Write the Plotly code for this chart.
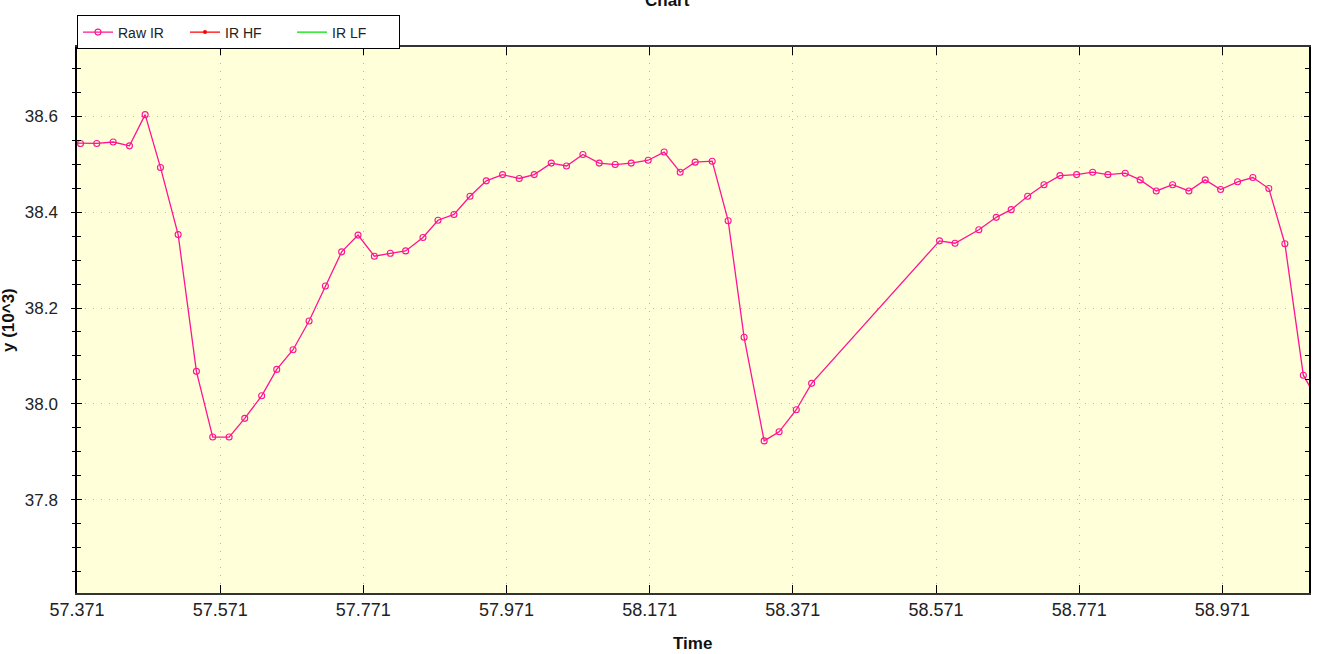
import plotly.graph_objects as go

# ---- data ----
time_s = [57.3531, 57.3759, 57.3986, 57.4215, 57.4443, 57.4662, 57.4876, 57.5123, 57.5378, 57.5606,
          57.5835, 57.6053, 57.6290, 57.6500, 57.6728, 57.6952, 57.7180, 57.7407, 57.7636, 57.7864,
          57.8087, 57.8301, 57.8543, 57.8753, 57.8976, 57.9200, 57.9427, 57.9655, 57.9888, 58.0097,
          58.0335, 58.0548, 58.0777, 58.1005, 58.1228, 58.1452, 58.1689, 58.1912, 58.2136, 58.2345,
          58.2583, 58.2806, 58.3029, 58.3309, 58.3518, 58.3758, 58.3972, 58.5759, 58.5975, 58.6308,
          58.6551, 58.6760, 58.6990, 58.7218, 58.7441, 58.7674, 58.7898, 58.8111, 58.8353, 58.8562,
          58.8786, 58.9015, 58.9242, 58.9470, 58.9685, 58.9922, 59.0136, 59.0359, 59.0583, 59.0841,
          59.1071]
raw_ir = [38.544, 38.543, 38.543, 38.546, 38.538, 38.603, 38.493, 38.353, 38.068, 37.931,
          37.931, 37.970, 38.017, 38.072, 38.113, 38.173, 38.246, 38.317, 38.352, 38.308,
          38.314, 38.319, 38.347, 38.383, 38.395, 38.433, 38.465, 38.478, 38.470, 38.478,
          38.502, 38.496, 38.520, 38.502, 38.499, 38.502, 38.508, 38.525, 38.483, 38.504,
          38.506, 38.382, 38.139, 37.923, 37.942, 37.988, 38.043, 38.340, 38.335, 38.363,
          38.389, 38.405, 38.433, 38.457, 38.476, 38.478, 38.483, 38.478, 38.481, 38.467,
          38.444, 38.457, 38.444, 38.467, 38.447, 38.463, 38.472, 38.449, 38.334, 38.060,
          38.000]
ir_hf = [None]
ir_lf = [None]

x_ticks = [57.371, 57.571, 57.771, 57.971, 58.171, 58.371, 58.571, 58.771, 58.971]
x_range = [57.371, 59.092]
y_range = [37.606, 38.744]

FONT = "Liberation Sans, Arial, sans-serif"
PINK = "#FF1493"

fig = go.Figure()
fig.add_trace(go.Scatter(
    x=time_s, y=raw_ir, name="Raw IR", mode="lines+markers",
    line=dict(color=PINK, width=1.3),
    marker=dict(symbol="circle-open", size=6, color=PINK, line=dict(width=1.1, color=PINK)),
))
fig.add_trace(go.Scatter(
    x=ir_hf, y=ir_hf, name="IR HF", mode="lines+markers", yaxis="y2",
    line=dict(color="#FF0000", width=1.3),
    marker=dict(symbol="circle", size=4, color="#FF0000"),
))
fig.add_trace(go.Scatter(
    x=ir_lf, y=ir_lf, name="IR LF", mode="lines", yaxis="y2",
    line=dict(color="#00E000", width=1.3),
))

fig.update_layout(
    width=1332, height=654,
    margin=dict(l=77, r=23, t=47, b=61),
    paper_bgcolor="white",
    plot_bgcolor="#FFFFD9",
    font=dict(family=FONT, size=16, color="#222222"),
    showlegend=True,
    legend=dict(
        orientation="h", x=0, xanchor="left", y=1.0577, yanchor="top",
        bgcolor="white", bordercolor="black", borderwidth=1,
        font=dict(family=FONT, size=14, color="#222222"),
        entrywidth=62, entrywidthmode="pixels",
        itemwidth=30,
    ),
    xaxis=dict(
        range=x_range, tickvals=x_ticks, ticktext=[f"{v:.3f}" for v in x_ticks],
        ticks="inside", ticklen=8, tickcolor="black", mirror="ticks",
        showline=True, linecolor="#333333", linewidth=1.5,
        showgrid=True, gridcolor="#B4B4B4", griddash="1px,7px", gridwidth=1,
        zeroline=False, tickfont=dict(family=FONT, size=18, color="#222222"),
    ),
    yaxis=dict(
        range=y_range, tick0=37.0, dtick=0.2, tickformat=".1f",
        ticks="inside", ticklen=5, tickcolor="black", mirror="ticks",
        showline=True, linecolor="black", linewidth=1.5,
        showgrid=True, gridcolor="#B4B4B4", griddash="1px,7px", gridwidth=1,
        zeroline=False, tickfont=dict(family=FONT, size=17, color="#222222"),
        ticklabelstandoff=14,
        minor=dict(tick0=37.0, dtick=0.05, ticks="inside", ticklen=4, tickcolor="black", showgrid=False),
    ),
    yaxis2=dict(
        range=y_range, overlaying="y", side="left", anchor="x",
        tick0=37.0, dtick=0.2, ticks="outside", ticklen=5, tickcolor="black",
        showticklabels=False, showgrid=False, showline=False, zeroline=False,
        minor=dict(tick0=37.0, dtick=0.05, ticks="outside", ticklen=4, tickcolor="black", showgrid=False),
    ),
    annotations=[
        dict(text="<b>Chart</b>", xref="paper", yref="paper", x=0.4797, y=1.086,
             xanchor="center", yanchor="middle", showarrow=False,
             font=dict(family=FONT, size=17, color="#111111")),
        dict(text="<b>Time</b>", xref="paper", yref="paper", x=0.4992, y=-0.0916,
             xanchor="center", yanchor="middle", showarrow=False,
             font=dict(family=FONT, size=17, color="#111111")),
        dict(text="<b>y (10^3)</b>", xref="paper", yref="paper", x=-0.056, y=0.5,
             xanchor="center", yanchor="middle", showarrow=False, textangle=-90,
             font=dict(family=FONT, size=17, color="#111111")),
    ],
)

fig.write_html(
    "out.html",
    config={"displayModeBar": False},
    post_script="document.body.style.margin='0';document.body.style.padding='0';",
)
